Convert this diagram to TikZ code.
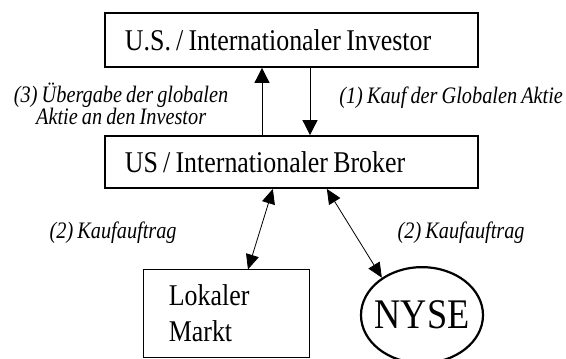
\documentclass[tikz,border=0pt]{standalone}
\usepackage{fontspec}
\setmainfont{Liberation Serif}[FakeStretch=0.86, WordSpace=0.8]
\usetikzlibrary{arrows.meta,calc,shapes.geometric}

\begin{document}
\begin{tikzpicture}[
  font=\rmfamily,
  bigbox/.style={draw=black, fill=white, line width=1.8pt, text width=11.655cm,
    inner xsep=0.7cm, inner ysep=0pt, align=flush left,
    font=\rmfamily\fontsize{30}{36}\selectfont},
  marktbox/.style={draw=black, line width=0.9pt, minimum width=5.81cm,
    minimum height=3.05cm, text width=4.0cm, inner sep=0pt, align=flush left,
    font=\rmfamily\fontsize{30}{36}\selectfont},
  boerse/.style={ellipse, draw=black, line width=2.2pt, minimum width=4.27cm,
    minimum height=3.36cm, inner sep=0pt,
    font=\rmfamily\fontsize{42}{48}\selectfont},
  flow/.style={draw=black, line width=0.8pt,
    -{Triangle[length=5.2mm,width=5.2mm]}},
  twoway/.style={draw=black, line width=0.8pt,
    {Triangle[length=5.2mm,width=4.6mm]}-{Triangle[length=5.2mm,width=4.6mm]}},
  note/.style={align=center, font=\rmfamily\itshape\fontsize{23.5}{22}\selectfont},
]
\useasboundingbox (0,0) rectangle (19.81,-12.565);

% ===== investor and broker =====
\node[bigbox, minimum height=1.89cm] (inv) at (10.20,-1.40)
  {U.S. / Internationaler Investor};
\node[bigbox, minimum height=1.82cm] (brk) at (10.20,-5.67)
  {US / Internationaler Broker};

\coordinate (upx) at (9.17,0);
\coordinate (dnx) at (10.85,0);
\draw[flow] (brk.north -| upx) -- (inv.south -| upx);
\draw[flow] (inv.south -| dnx) -- (brk.north -| dnx);

\node[note] (ueber) at (4.24,-3.62)
  {(3) Übergabe der globalen\\Aktie an den Investor};
\node[note] (kauf) at (15.79,-3.43) {(1) Kauf der Globalen Aktie};

% ===== markets =====
\node[marktbox] (lokal) at (7.91,-10.97) {Lokaler\\Markt};
\node[boerse] (nyse) at (14.77,-11.03) {\makebox[0pt]{NYSE}};

\draw[twoway] ($(brk.south)+(-0.65,0)$) -- ($(lokal.north)+(0.77,0)$);
\draw[twoway] ($(brk.south)+(1.24,0)$) -- (nyse.137);

\node[note] (auftragl) at (3.96,-8.16) {(2) Kaufauftrag};
\node[note] (auftragr) at (16.14,-8.16) {(2) Kaufauftrag};

\end{tikzpicture}
\end{document}
